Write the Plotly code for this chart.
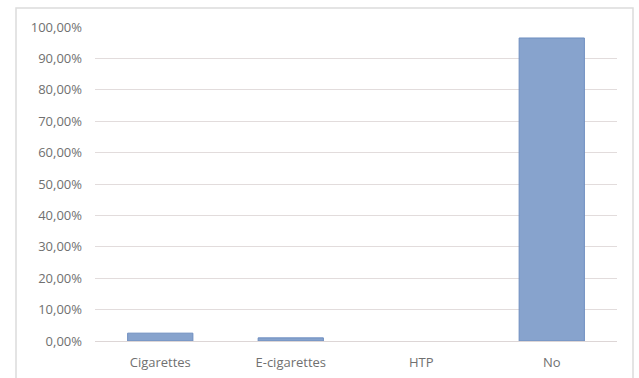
import plotly.graph_objects as go

categories = ["Cigarettes", "E-cigarettes", "HTP", "No"]
values = [2.5, 1.0, 0.0, 96.5]
tick_vals = [0, 10, 20, 30, 40, 50, 60, 70, 80, 90, 100]
tick_text = ["0,00%", "10,00%", "20,00%", "30,00%", "40,00%", "50,00%",
             "60,00%", "70,00%", "80,00%", "90,00%", "100,00%"]

fig = go.Figure()
fig.add_trace(go.Bar(
    x=categories, y=values,
    marker=dict(color="#87a3cd",
                line=dict(color="#6e8ec0", width=[0 if v == 0 else 1 for v in values])),
    width=0.5,
))

L, R, T, B = 95, 22, 27, 37
W, H = 639, 378
pw, ph = W - L - R, H - T - B
y_zero_px = H - B


def px_to_paper_y(y_px):
    return (y_zero_px - y_px) / ph


def px_to_paper_x(x_px):
    return (x_px - L) / pw


fig.update_layout(
    width=W, height=H,
    margin=dict(l=L, r=R, t=T, b=B),
    paper_bgcolor="white", plot_bgcolor="white",
    showlegend=False,
    font=dict(family="Open Sans, Liberation Sans, sans-serif", size=13, color="#707070"),
    xaxis=dict(showgrid=False, showline=True, linecolor="#ddd6d6", linewidth=1,
               ticks="", ticklabelstandoff=9, automargin=False,
               tickfont=dict(size=13, color="#707070")),
    yaxis=dict(range=[0, 100], tickvals=tick_vals, ticktext=tick_text,
               showgrid=True, gridcolor="#e2dcdc", gridwidth=1,
               zeroline=False, showline=False, ticks="",
               ticklabelstandoff=12, automargin=False,
               tickfont=dict(size=13, color="#707070")),
    shapes=[dict(type="rect", xref="paper", yref="paper",
                 x0=px_to_paper_x(16), x1=px_to_paper_x(633),
                 y0=px_to_paper_y(385), y1=px_to_paper_y(8),
                 line=dict(color="#dcdcdc", width=1.5), layer="below")],
)

fig.write_html("out.html")
